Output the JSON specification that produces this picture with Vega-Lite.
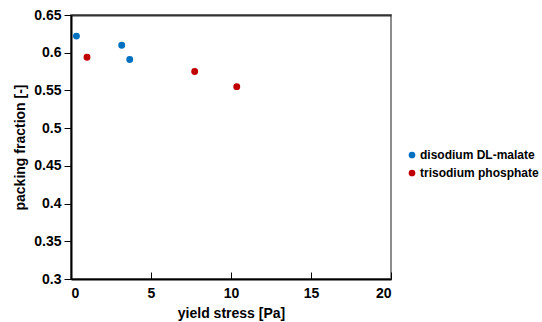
{
  "$schema": "https://vega.github.io/schema/vega-lite/v6.json",
  "width": 320,
  "height": 264,
  "autosize": {"type": "none"},
  "padding": {"left": 71, "top": 15, "right": 151, "bottom": 43},
  "background": "white",
  "config": {
    "font": "Liberation Sans",
    "view": {"stroke": "#8c8c8c", "strokeWidth": 2},
    "axis": {"grid": false, "labelFont": "Liberation Sans", "titleFont": "Liberation Sans", "labelFontWeight": "bold", "titleFontWeight": "bold", "labelColor": "#000", "titleColor": "#000", "labelFontSize": 14, "titleFontSize": 14}
  },
  "data": {
    "values": [
      {"stress": 0.34, "fraction": 0.622, "series": "disodium DL-malate"},
      {"stress": 3.17, "fraction": 0.610, "series": "disodium DL-malate"},
      {"stress": 3.67, "fraction": 0.591, "series": "disodium DL-malate"},
      {"stress": 1.0, "fraction": 0.594, "series": "trisodium phosphate"},
      {"stress": 7.73, "fraction": 0.575, "series": "trisodium phosphate"},
      {"stress": 10.36, "fraction": 0.555, "series": "trisodium phosphate"}
    ]
  },
  "resolve": {"axis": {"x": "independent"}},
  "layer": [
    {
      "mark": {"type": "point", "filled": true, "opacity": 1, "size": 48},
      "encoding": {
        "x": {
          "field": "stress", "type": "quantitative",
          "scale": {"domain": [0, 20], "nice": false, "zero": false},
          "axis": {"title": "yield stress [Pa]", "values": [0, 5, 10, 15, 20], "tickSize": -7, "tickColor": "#000", "tickWidth": 1, "domainColor": "#000", "domainWidth": 2, "labelPadding": 14, "titlePadding": 6}
        },
        "y": {
          "field": "fraction", "type": "quantitative",
          "scale": {"domain": [0.3, 0.65], "nice": false, "zero": false},
          "axis": {"title": "packing fraction [-]", "values": [0.3, 0.35, 0.4, 0.45, 0.5, 0.55, 0.6, 0.65], "format": "~g", "tickSize": 7, "tickColor": "#000", "tickWidth": 1, "domainColor": "#000", "domainWidth": 2, "labelPadding": 3, "titlePadding": 6}
        },
        "color": {
          "field": "series", "type": "nominal",
          "scale": {"domain": ["disodium DL-malate", "trisodium phosphate"], "range": ["#0070C0", "#C00000"]},
          "legend": {"title": null, "orient": "none", "legendX": 335, "legendY": 134, "symbolType": "circle", "symbolSize": 45, "labelFontSize": 12, "labelFontWeight": "bold", "labelFont": "Liberation Sans", "labelColor": "#000", "labelOffset": 2, "rowPadding": 6}
        }
      }
    },
    {
      "mark": {"type": "point", "opacity": 0},
      "encoding": {
        "x": {
          "field": "stress", "type": "quantitative",
          "scale": {"domain": [0, 20], "nice": false, "zero": false},
          "axis": {"orient": "top", "title": null, "labels": false, "ticks": false, "domainColor": "#333", "domainWidth": 2}
        }
      }
    }
  ]
}
